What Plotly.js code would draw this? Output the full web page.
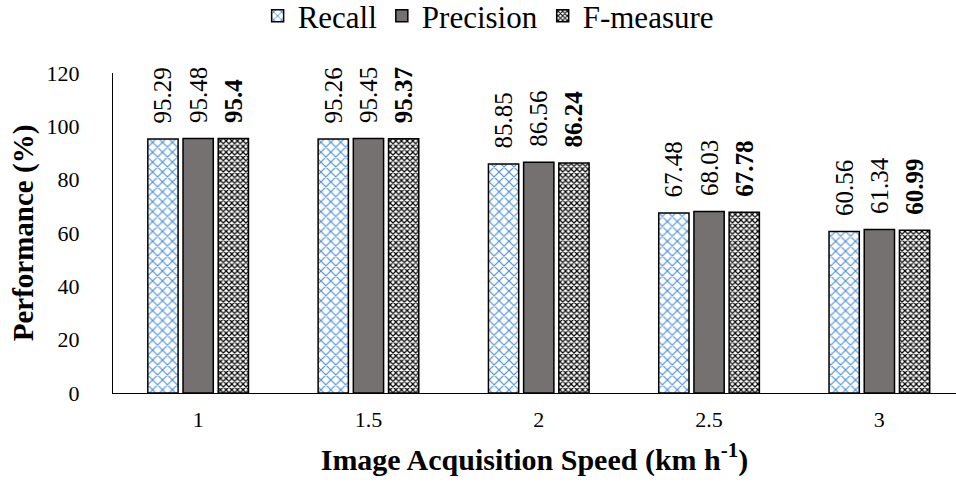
<!DOCTYPE html>
<html>
<head>
<meta charset="utf-8">
<script src="https://cdn.plot.ly/plotly-3.0.1.min.js"></script>
<style>html,body{margin:0;padding:0;background:#fff;}#chart{width:956px;height:484px;}</style>
</head>
<body>
<div id="chart"></div>
<script>
const categories = ["1", "1.5", "2", "2.5", "3"];
const recall = [95.29, 95.26, 85.85, 67.48, 60.56];
const precision = [95.48, 95.45, 86.56, 68.03, 61.34];
const fmeasure = [95.4, 95.37, 86.24, 67.78, 60.99];
const yTicks = [0, 20, 40, 60, 80, 100, 120];

const FONT = 'Liberation Serif';
const pad = '\u00a0\u00a0';

const common = {
  type: 'bar',
  x: categories,
  textposition: 'outside',
  textangle: -90,
  cliponaxis: false,
  constraintext: 'none',
  textfont: {family: FONT, size: 25, color: '#000'},
  hoverinfo: 'none'
};

const traces = [
  Object.assign({}, common, {
    name: 'Recall', y: recall,
    texttemplate: pad + '%{y}',
    marker: {color: '#ffffff', line: {color: '#000', width: 1.5},
      pattern: {shape: 'x', fgcolor: '#4A8FD4', bgcolor: '#ffffff', size: 7, solidity: 0.3}}
  }),
  Object.assign({}, common, {
    name: 'Precision', y: precision,
    texttemplate: pad + '%{y}',
    marker: {color: '#767171', line: {color: '#000', width: 1.5}}
  }),
  Object.assign({}, common, {
    name: 'F-measure', y: fmeasure,
    texttemplate: pad + '<b>%{y}</b>',
    marker: {color: '#000000', line: {color: '#000', width: 1.5},
      pattern: {shape: 'x', fgcolor: '#000000', bgcolor: '#ffffff', size: 4, solidity: 0.5}}
  })
];

const layout = {
  width: 956, height: 484,
  margin: {l: 113, r: 0, t: 73, b: 91, autoexpand: false},
  paper_bgcolor: '#fff', plot_bgcolor: '#fff',
  font: {family: FONT, color: '#000'},
  barmode: 'group',
  bargap: 0.38,
  bargroupgap: 0.14,
  showlegend: true,
  legend: {orientation: 'h', x: 0.445, xanchor: 'center', y: 1.262, yanchor: 'top',
    font: {family: FONT, size: 31, color: '#000'}, itemwidth: 30, traceorder: 'normal'},
  xaxis: {
    type: 'category', range: [-0.5, 4.45],
    showline: true, linecolor: '#000', linewidth: 1.2,
    showgrid: false, zeroline: false,
    ticks: '', ticklabelstandoff: 6,
    tickfont: {family: FONT, size: 22, color: '#000'},
    title: {text: '<b>Image Acquisition Speed (km h<sup>-1</sup>)</b>', font: {family: FONT, size: 30, color: '#000'}, standoff: 18}
  },
  yaxis: {
    range: [0, 120], tickvals: yTicks, ticktext: yTicks.map(String),
    showline: true, linecolor: '#000', linewidth: 1.2,
    showgrid: false, zeroline: false,
    ticks: '', ticklabelstandoff: 28,
    tickfont: {family: FONT, size: 22, color: '#000'},
    title: {text: '<b>Performance (%)</b>', font: {family: FONT, size: 29, color: '#000'}, standoff: 4}
  }
};

Plotly.newPlot('chart', traces, layout, {displayModeBar: false, staticPlot: true});
</script>
</body>
</html>
